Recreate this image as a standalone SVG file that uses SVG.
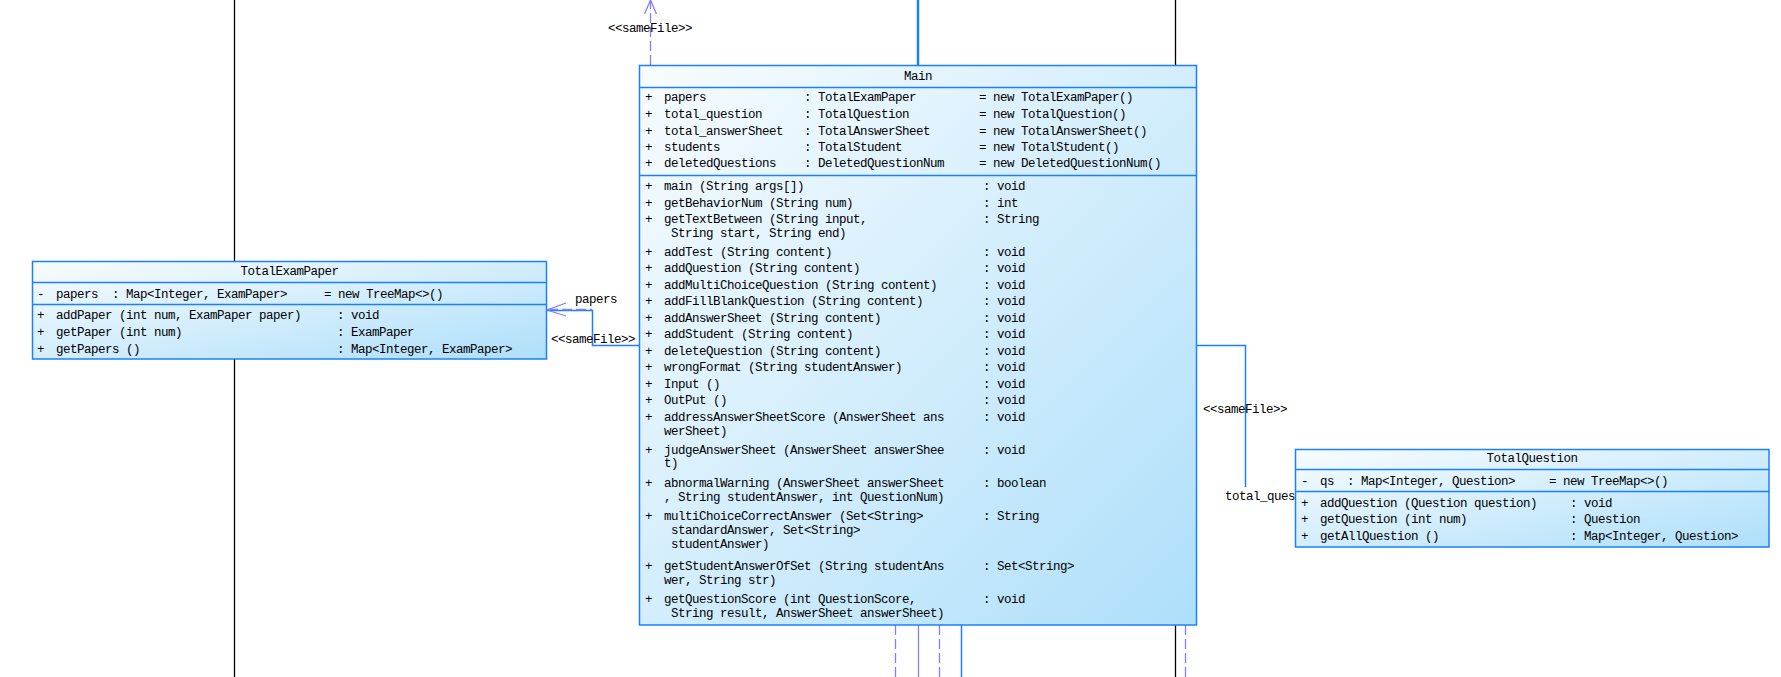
<svg xmlns="http://www.w3.org/2000/svg" width="1781" height="677" viewBox="0 0 1781 677">
<style>
.box{fill:url(#g);stroke:#1a80ff;stroke-width:1.5}
.sep{stroke:#1a80ff;stroke-width:1.5}
text{font-family:"Liberation Mono","DejaVu Sans Mono",monospace;font-size:12.5px;letter-spacing:-0.5px;fill:#000}
.c{text-anchor:middle}
.blue{stroke:#1a80ff;stroke-width:1.5;fill:none}
.blue2{stroke:#1a80ff;stroke-width:2.5;fill:none}
.pur{stroke:#8080ff;stroke-width:1.3;fill:none}
.dash{stroke:#8080ff;stroke-width:1.3;stroke-dasharray:10 4;fill:none}
.blk{stroke:#000;stroke-width:1.3;fill:none}
</style>
<defs>
<linearGradient id="g" x1="0" y1="0" x2="1" y2="1">
<stop offset="0" stop-color="#f8fcff"/>
<stop offset="1" stop-color="#aedffa"/>
</linearGradient>
</defs>
<rect width="1781" height="677" fill="#fff"/>
<g id="connectors">
<line class="blk" x1="234.5" y1="0" x2="234.5" y2="677"/>
<line class="dash" x1="650.5" y1="65" x2="650.5" y2="1"/>
<path class="pur" d="M644.5,14 L650.5,0 L656.5,14"/>
<line class="blue2" x1="918" y1="0" x2="918" y2="65"/>
<line class="blk" x1="1175.5" y1="0" x2="1175.5" y2="65"/>
<line class="dash" x1="895.5" y1="625" x2="895.5" y2="677"/>
<line class="pur" x1="918.5" y1="625" x2="918.5" y2="677"/>
<line class="dash" x1="939.5" y1="625" x2="939.5" y2="677"/>
<line class="blue" x1="961.5" y1="625" x2="961.5" y2="677"/>
<line class="blk" x1="1175.5" y1="625" x2="1175.5" y2="677"/>
<line class="dash" x1="1185.5" y1="625" x2="1185.5" y2="677"/>
<path class="blue" d="M639,345.5 H592.5 V310.5 H547"/>
<line class="dash" x1="548" y1="309.5" x2="592" y2="309.5"/>
<path class="pur" d="M566,303 L547,310 L566,316"/>
<text x="575" y="303">papers</text>
<text x="551" y="343">&lt;&lt;sameFile&gt;&gt;</text>
<path class="blue" d="M1197,345.5 H1245.5 V487"/>
<text x="1203" y="413">&lt;&lt;sameFile&gt;&gt;</text>
<text x="1225" y="500">total_ques</text>
<text x="608" y="32">&lt;&lt;sameFile&gt;&gt;</text>
</g>
<g id="TotalExamPaper">
<rect class="box" x="32.5" y="261.5" width="514" height="97.5"/>
<line class="sep" x1="32.5" y1="282.5" x2="546.5" y2="282.5"/>
<line class="sep" x1="32.5" y1="304.5" x2="546.5" y2="304.5"/>
<text class="c" x="289.5" y="275">TotalExamPaper</text>
<text x="37" y="298">-</text><text x="56" y="298">papers</text><text x="112" y="298">: Map&lt;Integer, ExamPaper&gt;</text><text x="324" y="298">= new TreeMap&lt;&gt;()</text>
<text x="37" y="319">+</text><text x="56" y="319">addPaper (int num, ExamPaper paper)</text><text x="337" y="319">: void</text>
<text x="37" y="335.5">+</text><text x="56" y="335.5">getPaper (int num)</text><text x="337" y="335.5">: ExamPaper</text>
<text x="37" y="352.5">+</text><text x="56" y="352.5">getPapers ()</text><text x="337" y="352.5">: Map&lt;Integer, ExamPaper&gt;</text>
</g>
<g id="TotalQuestion">
<rect class="box" x="1295.5" y="449.5" width="473.5" height="97.5"/>
<line class="sep" x1="1295.5" y1="469.5" x2="1769" y2="469.5"/>
<line class="sep" x1="1295.5" y1="491.5" x2="1769" y2="491.5"/>
<text class="c" x="1532" y="462">TotalQuestion</text>
<text x="1301" y="484.5">-</text><text x="1320" y="484.5">qs</text><text x="1347" y="484.5">: Map&lt;Integer, Question&gt;</text><text x="1549" y="484.5">= new TreeMap&lt;&gt;()</text>
<text x="1301" y="506.5">+</text><text x="1320" y="506.5">addQuestion (Question question)</text><text x="1570" y="506.5">: void</text>
<text x="1301" y="522.5">+</text><text x="1320" y="522.5">getQuestion (int num)</text><text x="1570" y="522.5">: Question</text>
<text x="1301" y="539.5">+</text><text x="1320" y="539.5">getAllQuestion ()</text><text x="1570" y="539.5">: Map&lt;Integer, Question&gt;</text>
</g>
<g id="Main">
<rect class="box" x="639.5" y="65.5" width="557" height="559.5"/>
<line class="sep" x1="639.5" y1="87.5" x2="1196.5" y2="87.5"/>
<line class="sep" x1="639.5" y1="175.5" x2="1196.5" y2="175.5"/>
<text class="c" x="918" y="79.5">Main</text>
<text x="645" y="101">+</text><text x="664" y="101">papers</text><text x="804" y="101">: TotalExamPaper</text><text x="979" y="101">= new TotalExamPaper()</text>
<text x="645" y="118">+</text><text x="664" y="118">total_question</text><text x="804" y="118">: TotalQuestion</text><text x="979" y="118">= new TotalQuestion()</text>
<text x="645" y="134.5">+</text><text x="664" y="134.5">total_answerSheet</text><text x="804" y="134.5">: TotalAnswerSheet</text><text x="979" y="134.5">= new TotalAnswerSheet()</text>
<text x="645" y="151">+</text><text x="664" y="151">students</text><text x="804" y="151">: TotalStudent</text><text x="979" y="151">= new TotalStudent()</text>
<text x="645" y="167">+</text><text x="664" y="167">deletedQuestions</text><text x="804" y="167">: DeletedQuestionNum</text><text x="979" y="167">= new DeletedQuestionNum()</text>
<text x="645" y="189.5">+</text><text x="664" y="189.5">main (String args[])</text><text x="983" y="189.5">: void</text>
<text x="645" y="206.5">+</text><text x="664" y="206.5">getBehaviorNum (String num)</text><text x="983" y="206.5">: int</text>
<text x="645" y="222.5">+</text><text x="664" y="222.5">getTextBetween (String input,</text><text x="983" y="222.5">: String</text>
<text x="671" y="236.5">String start, String end)</text>
<text x="645" y="255.5">+</text><text x="664" y="255.5">addTest (String content)</text><text x="983" y="255.5">: void</text>
<text x="645" y="272">+</text><text x="664" y="272">addQuestion (String content)</text><text x="983" y="272">: void</text>
<text x="645" y="288.5">+</text><text x="664" y="288.5">addMultiChoiceQuestion (String content)</text><text x="983" y="288.5">: void</text>
<text x="645" y="305">+</text><text x="664" y="305">addFillBlankQuestion (String content)</text><text x="983" y="305">: void</text>
<text x="645" y="321.5">+</text><text x="664" y="321.5">addAnswerSheet (String content)</text><text x="983" y="321.5">: void</text>
<text x="645" y="338">+</text><text x="664" y="338">addStudent (String content)</text><text x="983" y="338">: void</text>
<text x="645" y="354.5">+</text><text x="664" y="354.5">deleteQuestion (String content)</text><text x="983" y="354.5">: void</text>
<text x="645" y="371">+</text><text x="664" y="371">wrongFormat (String studentAnswer)</text><text x="983" y="371">: void</text>
<text x="645" y="387.5">+</text><text x="664" y="387.5">Input ()</text><text x="983" y="387.5">: void</text>
<text x="645" y="404">+</text><text x="664" y="404">OutPut ()</text><text x="983" y="404">: void</text>
<text x="645" y="420.5">+</text><text x="664" y="420.5">addressAnswerSheetScore (AnswerSheet ans</text><text x="983" y="420.5">: void</text>
<text x="664" y="434.5">werSheet)</text>
<text x="645" y="453.5">+</text><text x="664" y="453.5">judgeAnswerSheet (AnswerSheet answerShee</text><text x="983" y="453.5">: void</text>
<text x="664" y="466.5">t)</text>
<text x="645" y="486.5">+</text><text x="664" y="486.5">abnormalWarning (AnswerSheet answerSheet</text><text x="983" y="486.5">: boolean</text>
<text x="664" y="500.5">, String studentAnswer, int QuestionNum)</text>
<text x="645" y="519.5">+</text><text x="664" y="519.5">multiChoiceCorrectAnswer (Set&lt;String&gt;</text><text x="983" y="519.5">: String</text>
<text x="671" y="533.5">standardAnswer, Set&lt;String&gt;</text>
<text x="671" y="547.5">studentAnswer)</text>
<text x="645" y="569.5">+</text><text x="664" y="569.5">getStudentAnswerOfSet (String studentAns</text><text x="983" y="569.5">: Set&lt;String&gt;</text>
<text x="664" y="583.5">wer, String str)</text>
<text x="645" y="602.5">+</text><text x="664" y="602.5">getQuestionScore (int QuestionScore,</text><text x="983" y="602.5">: void</text>
<text x="671" y="616.5">String result, AnswerSheet answerSheet)</text>
</g>
</svg>
